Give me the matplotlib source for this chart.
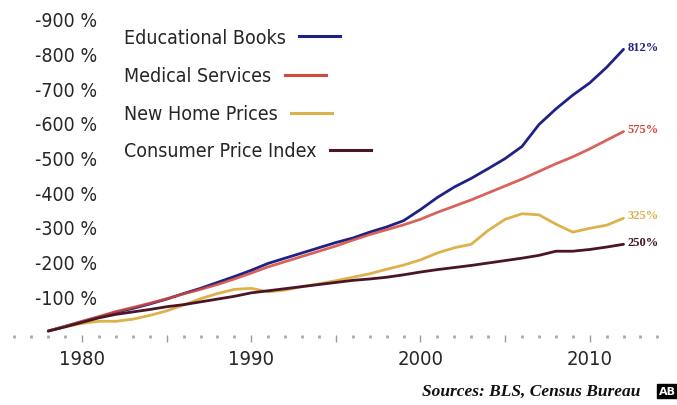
import matplotlib.pyplot as plt
from matplotlib.lines import Line2D

years = list(range(1978, 2013))
books = [0, 13, 27, 40, 54, 65, 78, 92, 108, 123,
         140, 157, 175, 195, 210, 225, 240, 255, 268, 285,
         300, 318, 350, 385, 415, 440, 468, 497, 532, 595,
         640, 680, 715, 760, 812]
medical = [0, 14, 28, 42, 56, 68, 80, 93, 107, 120,
           134, 150, 167, 185, 200, 215, 230, 245, 262, 278,
           292, 306, 322, 342, 360, 378, 398, 418, 438, 460,
           482, 502, 525, 550, 575]
homes = [0, 12, 22, 28, 28, 34, 45, 58, 75, 93,
         108, 120, 123, 113, 118, 128, 136, 145, 155, 165,
         178, 190, 205, 225, 240, 250, 290, 322, 338, 335,
         308, 285, 296, 305, 325]
cpi = [0, 12, 25, 38, 48, 55, 62, 70, 76, 84,
       92, 100, 110, 116, 122, 128, 134, 140, 146, 150,
       155, 162, 170, 177, 183, 189, 196, 203, 210, 218,
       230, 230, 235, 242, 250]

names = ["Educational Books", "Medical Services", "New Home Prices", "Consumer Price Index"]
end_labels = ["812%", "575%", "325%", "250%"]
y_ticks = [100, 200, 300, 400, 500, 600, 700, 800, 900]
x_labels = [1980, 1990, 2000, 2010]

colors = ["#1f2284", "#d2483e", "#ddb24a", "#4a1524"]
sans = dict(family="DejaVu Sans", stretch="condensed")
txt_color = "#262626"

fig = plt.figure(figsize=(6.77, 4.06), dpi=100)
ax = fig.add_axes([0, 70 / 406, 1, 336 / 406])
ax.set_xlim(1975.15, 2015.16)
ax.set_ylim(-11.5, 957)

series = [books, medical, homes, cpi]
handles = []
for vals, c, lab in zip(series, colors, end_labels):
    alpha = 0.85 if c == colors[1] else 1.0
    ax.plot(years, vals, color=c, lw=2.0, alpha=alpha, solid_capstyle="round")
    handles.append(Line2D([], [], color=c, lw=2.2))
    ax.annotate(lab, (years[-1], vals[-1]), xytext=(3, 2), textcoords="offset points",
                color=c, fontsize=9, fontweight="bold", family="Liberation Serif",
                va="center", ha="left")

for s in ax.spines.values():
    s.set_visible(False)

ax.set_yticks(y_ticks)
ax.set_yticklabels([f"-{v} %" for v in y_ticks], fontsize=14, color=txt_color, **sans)
ax.tick_params(axis="y", length=0, pad=-70)

ax.set_xticks(list(range(1980, 2011, 5)))
ax.set_xticklabels([str(y) if y in x_labels else "" for y in range(1980, 2011, 5)],
                   fontsize=14.5, color=txt_color, **sans)
ax.set_xticks(list(range(1976, 2015)), minor=True)
ax.tick_params(axis="x", which="major", length=5, width=1, color="#999999", pad=5)
ax.tick_params(axis="x", which="minor", length=2, width=2, color="#aaaaaa")

# legend: text first, then its line, each entry on its own
legend_y = [38, 77, 115, 152]
for h, name, yp in zip(handles, names, legend_y):
    leg = fig.legend(handles=[h], labels=[name], loc="center left",
                     bbox_to_anchor=(124 / 677, 1 - yp / 406), markerfirst=False,
                     frameon=False, borderpad=0, borderaxespad=0,
                     handlelength=2.1, handletextpad=0.7,
                     prop=dict(size=14, **sans))
    for t in leg.get_texts():
        t.set_color(txt_color)

fig.text(640 / 677, 1 - 392 / 406, "Sources: BLS, Census Bureau", ha="right", va="center",
         family="Liberation Serif", fontweight="bold", style="italic", fontsize=12.5,
         color="#111111")
fig.text(659 / 677, 1 - 392 / 406, "AB", ha="left", va="center", color="white",
         fontsize=8, fontweight="bold",
         bbox=dict(boxstyle="square,pad=0.2", facecolor="black", edgecolor="black"))

fig.savefig("out.png", dpi=100)
